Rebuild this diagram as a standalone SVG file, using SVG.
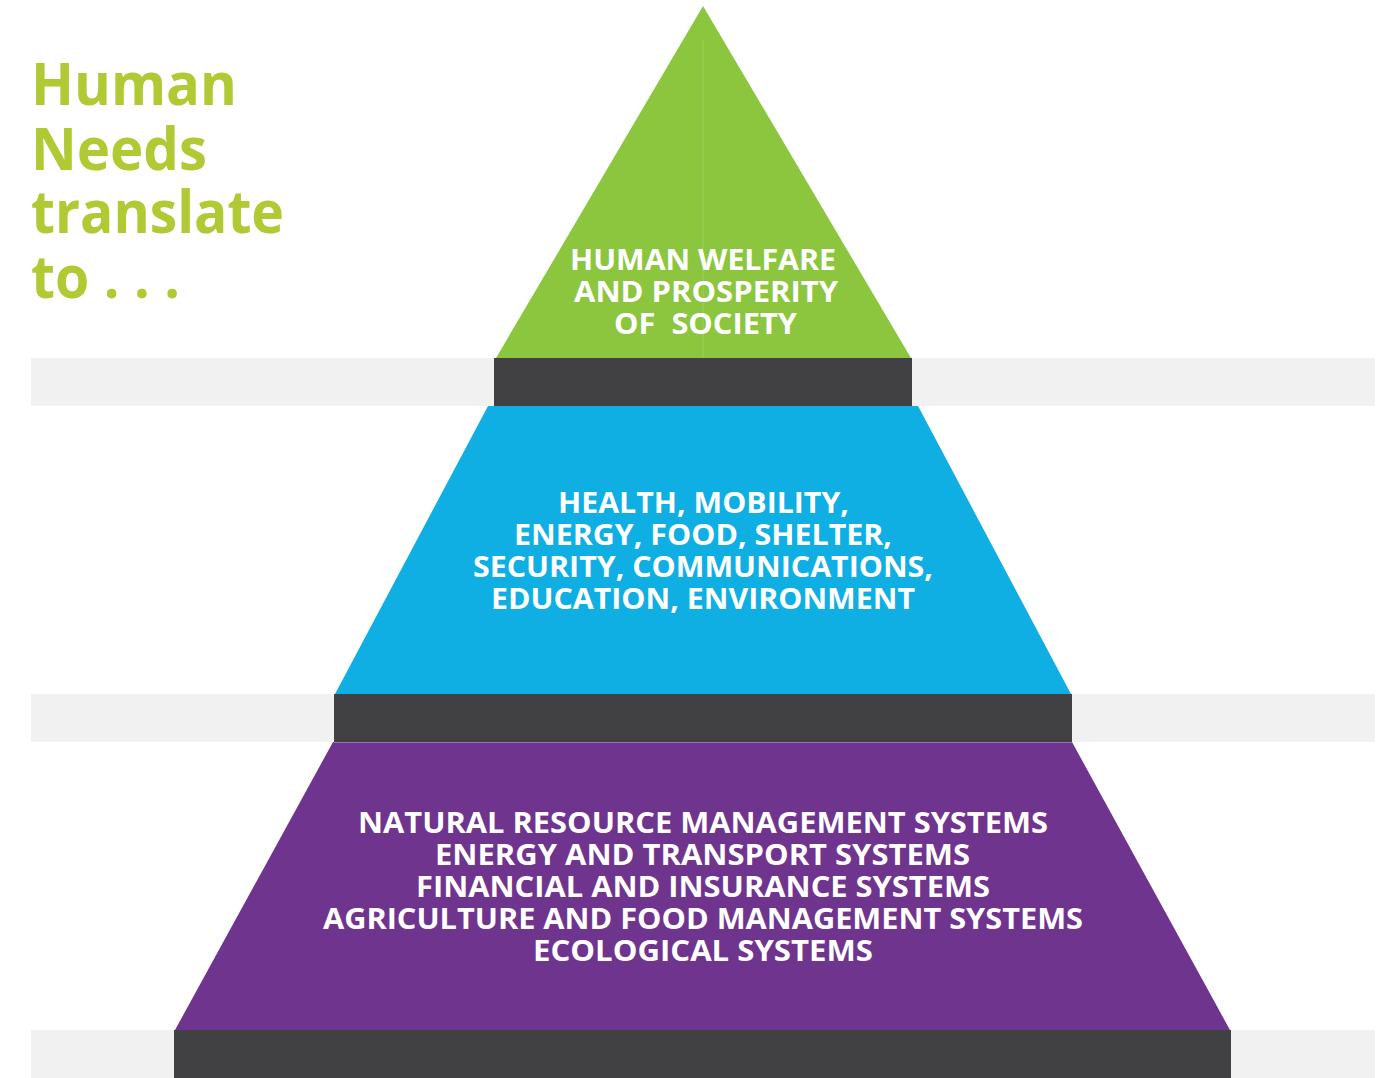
<svg xmlns="http://www.w3.org/2000/svg" width="1388" height="1078" viewBox="0 0 1388 1078">
<style>
.title{font-family:"Open Sans","Liberation Sans",sans-serif;font-weight:700;font-size:59px;fill:#afca33}
.lbl{font-family:"Open Sans","Liberation Sans",sans-serif;font-weight:700;font-size:29px;fill:#ffffff;text-anchor:middle}
.band{fill:#f1f1f1}
.base{fill:#414042}
</style>
<rect width="1388" height="1078" fill="#ffffff"/>
<g id="title">
<text class="title" x="31" y="105" textLength="206" lengthAdjust="spacingAndGlyphs">Human</text>
<text class="title" x="31" y="170" textLength="176" lengthAdjust="spacingAndGlyphs">Needs</text>
<text class="title" x="31" y="233" textLength="253" lengthAdjust="spacingAndGlyphs">translate</text>
<text class="title" x="31" y="298" textLength="149" lengthAdjust="spacingAndGlyphs">to . . .</text>
</g>
<g id="bands">
<rect class="band" x="31" y="358" width="1344" height="48"/>
<rect class="band" x="31" y="694" width="1344" height="48"/>
<rect class="band" x="31" y="1030" width="1344" height="48"/>
</g>
<g id="tier-top">
<polygon points="703,6 911,358 496,358" fill="#8cc63f"/>
<line x1="703" y1="40" x2="703" y2="358" stroke="#9dd05a" stroke-width="1"/>
<rect class="base" x="494" y="358" width="418" height="48"/>
<text class="lbl" x="703" y="270" textLength="266" lengthAdjust="spacingAndGlyphs">HUMAN WELFARE</text>
<text class="lbl" x="706" y="302" textLength="264" lengthAdjust="spacingAndGlyphs">AND PROSPERITY</text>
<text class="lbl" x="705.5" y="334" textLength="183" lengthAdjust="spacingAndGlyphs" xml:space="preserve">OF  SOCIETY</text>
</g>
<g id="tier-middle">
<polygon points="488,406 918,406 1071,694 335,694" fill="#0faee3"/>
<rect class="base" x="334" y="694" width="738" height="48"/>
<text class="lbl" x="703.5" y="513" textLength="291" lengthAdjust="spacingAndGlyphs">HEALTH, MOBILITY,</text>
<text class="lbl" x="703" y="545" textLength="378" lengthAdjust="spacingAndGlyphs">ENERGY, FOOD, SHELTER,</text>
<text class="lbl" x="703" y="577" textLength="460" lengthAdjust="spacingAndGlyphs">SECURITY, COMMUNICATIONS,</text>
<text class="lbl" x="703" y="609" textLength="424" lengthAdjust="spacingAndGlyphs">EDUCATION, ENVIRONMENT</text>
</g>
<g id="tier-bottom">
<polygon points="333,742 1072,742 1230,1030 175,1030" fill="#6f348d"/>
<line x1="334" y1="742.5" x2="1072" y2="742.5" stroke="#9a72b0" stroke-width="1"/>
<rect class="base" x="174" y="1030" width="1057" height="48"/>
<text class="lbl" x="703" y="833" textLength="690" lengthAdjust="spacingAndGlyphs">NATURAL RESOURCE MANAGEMENT SYSTEMS</text>
<text class="lbl" x="702.5" y="865" textLength="535" lengthAdjust="spacingAndGlyphs">ENERGY AND TRANSPORT SYSTEMS</text>
<text class="lbl" x="703" y="897" textLength="574" lengthAdjust="spacingAndGlyphs">FINANCIAL AND INSURANCE SYSTEMS</text>
<text class="lbl" x="703" y="929" textLength="760" lengthAdjust="spacingAndGlyphs">AGRICULTURE AND FOOD MANAGEMENT SYSTEMS</text>
<text class="lbl" x="703" y="961" textLength="340" lengthAdjust="spacingAndGlyphs">ECOLOGICAL SYSTEMS</text>
</g>
</svg>
